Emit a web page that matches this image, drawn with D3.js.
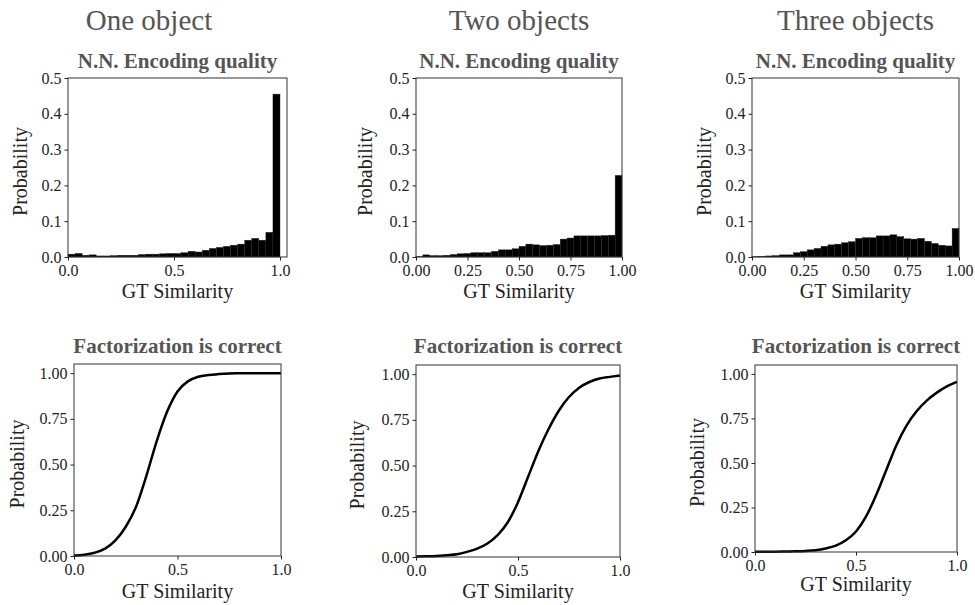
<!DOCTYPE html>
<html>
<head>
<meta charset="utf-8">
<script src="https://cdn.jsdelivr.net/npm/d3@7"></script>
<style>
  body { margin: 0; background: #fff; }
  svg { display: block; }
  svg text { font-family: "Liberation Serif", "Times New Roman", serif; }
</style>
</head>
<body>
<svg width="975" height="605"></svg>
<script>
// columns
const columnTitles = ["One object", "Two objects", "Three objects"];

// histogram bar heights (30 bins over 0..1)
const oneObjHist = [0.008, 0.010, 0.005, 0.006, 0.003, 0.003, 0.004, 0.005, 0.005, 0.005,
                    0.007, 0.008, 0.008, 0.009, 0.010, 0.010, 0.012, 0.016, 0.014, 0.019,
                    0.024, 0.027, 0.030, 0.033, 0.036, 0.047, 0.052, 0.047, 0.069, 0.455];
const twoObjHist = [0.001, 0.006, 0.004, 0.004, 0.005, 0.007, 0.009, 0.010, 0.012, 0.012,
                    0.012, 0.016, 0.020, 0.020, 0.023, 0.030, 0.036, 0.034, 0.032, 0.033,
                    0.035, 0.050, 0.053, 0.059, 0.059, 0.059, 0.059, 0.060, 0.061, 0.228];
const threeObjHist = [0.001, 0.002, 0.003, 0.004, 0.006, 0.006, 0.012, 0.015, 0.020, 0.024,
                      0.030, 0.034, 0.036, 0.040, 0.043, 0.052, 0.054, 0.054, 0.059, 0.059,
                      0.062, 0.057, 0.051, 0.050, 0.052, 0.044, 0.038, 0.033, 0.031, 0.080];

// factorization curves
const curveX = [0, 0.05, 0.1, 0.15, 0.2, 0.25, 0.3, 0.35, 0.4, 0.45, 0.5,
                0.55, 0.6, 0.65, 0.7, 0.75, 0.8, 0.85, 0.9, 0.95, 1.0];
const oneObjCurve = [0.003, 0.007, 0.018, 0.040, 0.085, 0.160, 0.270, 0.440, 0.630, 0.790, 0.900,
                     0.955, 0.980, 0.990, 0.995, 0.998, 0.999, 1.0, 1.0, 1.0, 1.0];
const twoObjCurve = [0.003, 0.004, 0.006, 0.010, 0.015, 0.028, 0.046, 0.074, 0.120, 0.190, 0.300,
                     0.440, 0.580, 0.700, 0.800, 0.875, 0.926, 0.957, 0.976, 0.985, 0.993];
const threeObjCurve = [0.002, 0.002, 0.002, 0.003, 0.004, 0.006, 0.010, 0.020, 0.036, 0.066, 0.115,
                       0.200, 0.320, 0.460, 0.600, 0.710, 0.790, 0.850, 0.895, 0.930, 0.955];

const histTicksOne = [0, 0.5, 1.0];
const histTicksMany = [0, 0.25, 0.5, 0.75, 1.0];
const probTicksHist = [0, 0.1, 0.2, 0.3, 0.4, 0.5];
const curveTicksX = [0, 0.5, 1.0];
const probTicksCurve = [0, 0.25, 0.5, 0.75, 1.0];

const svg = d3.select("svg");
const grey = "#555";
const ink = "#222";
const serif = "Liberation Serif";

// panel boxes (pixel layout)
const topPanels = [
  { x0: 68,  x1: 287, y0: 78, y1: 257, xMax: 1.033, data: oneObjHist,   xt: histTicksOne,  xf: ".1f", yl: 27,  xlY: 298 },
  { x0: 416, x1: 622, y0: 78, y1: 257, xMax: 1.0,   data: twoObjHist,   xt: histTicksMany, xf: ".2f", yl: 372, xlY: 298 },
  { x0: 752, x1: 959, y0: 78, y1: 257, xMax: 1.0,   data: threeObjHist, xt: histTicksMany, xf: ".2f", yl: 711, xlY: 298 }
];
const bottomPanels = [
  { x0: 74,  x1: 281, y0: 364, y1: 556, data: oneObjCurve,   yl: 24,  xlY: 598 },
  { x0: 416, x1: 620, y0: 365, y1: 557, data: twoObjCurve,   yl: 364, xlY: 598 },
  { x0: 755, x1: 957, y0: 365, y1: 552, data: threeObjCurve, yl: 704, xlY: 591 }
];

function frame(p, x, y, xt, xf, yt, yf, title, titleY) {
  const g = svg.append("g");
  g.append("g")
    .attr("transform", `translate(0,${p.y1})`)
    .call(d3.axisBottom(x).tickValues(xt).tickFormat(d3.format(xf)).tickSize(3.5).tickPadding(4.5))
    .call(a => a.select(".domain").remove())
    .call(a => a.selectAll(".tick line").attr("stroke", ink))
    .selectAll("text").attr("font-size", 16).attr("fill", ink).attr("font-family", serif);
  g.append("g")
    .attr("transform", `translate(${p.x0},0)`)
    .call(d3.axisLeft(y).tickValues(yt).tickFormat(d3.format(yf)).tickSize(3.5).tickPadding(3))
    .call(a => a.select(".domain").remove())
    .call(a => a.selectAll(".tick line").attr("stroke", ink))
    .selectAll("text").attr("font-size", 16).attr("fill", ink).attr("font-family", serif);
  g.append("rect")
    .attr("x", p.x0).attr("y", p.y0)
    .attr("width", p.x1 - p.x0).attr("height", p.y1 - p.y0)
    .attr("fill", "none").attr("stroke", "#333").attr("stroke-width", 1);
  g.append("text")
    .attr("x", (p.x0 + p.x1) / 2).attr("y", titleY)
    .attr("text-anchor", "middle").attr("font-size", 21).attr("font-weight", "bold")
    .attr("font-family", serif).attr("fill", grey).text(title);
  g.append("text")
    .attr("x", (p.x0 + p.x1) / 2).attr("y", p.xlY)
    .attr("text-anchor", "middle").attr("font-size", 20).attr("fill", ink)
    .attr("font-family", serif).text("GT Similarity");
  g.append("text")
    .attr("transform", `translate(${p.yl},${(p.y0 + p.y1) / 2 + 4}) rotate(-90)`)
    .attr("text-anchor", "middle").attr("font-size", 20).attr("fill", ink)
    .attr("font-family", serif).text("Probability");
  return g;
}

// column titles
columnTitles.forEach((t, i) => {
  const cx = i === 0 ? 149 : (topPanels[i].x0 + topPanels[i].x1) / 2;
  svg.append("text")
    .attr("x", cx).attr("y", 30)
    .attr("text-anchor", "middle").attr("font-size", 29).attr("fill", grey)
    .attr("font-family", serif).text(t);
});

// histograms
topPanels.forEach(p => {
  const x = d3.scaleLinear().domain([0, p.xMax]).range([p.x0, p.x1]);
  const y = d3.scaleLinear().domain([0, 0.5]).range([p.y1, p.y0]);
  const bin = d3.scaleLinear().domain([0, p.data.length]).range([0, 1]);
  svg.append("g").selectAll("rect")
    .data(p.data)
    .enter()
    .append("rect")
    .attr("x", (d, i) => x(bin(i)))
    .attr("width", (d, i) => x(bin(i + 1)) - x(bin(i)))
    .attr("y", d => y(d))
    .attr("height", d => y(0) - y(d))
    .attr("fill", "#000")
    .attr("stroke", "#2a2a2a")
    .attr("stroke-width", 0.4);
  frame(p, x, y, p.xt, p.xf, probTicksHist, ".1f", "N.N. Encoding quality", 68);
});

// curves
bottomPanels.forEach(p => {
  const x = d3.scaleLinear().domain([0, 1]).range([p.x0, p.x1]);
  const y = d3.scaleLinear().domain([0, 1.05]).range([p.y1, p.y0]);
  const line = d3.line()
    .x((d, i) => x(curveX[i]))
    .y(d => y(d))
    .curve(d3.curveMonotoneX);
  svg.append("path")
    .datum(p.data)
    .attr("d", line)
    .attr("fill", "none")
    .attr("stroke", "#000")
    .attr("stroke-width", 2.5);
  frame(p, x, y, curveTicksX, ".1f", probTicksCurve, ".2f", "Factorization is correct", 353);
});
</script>
</body>
</html>
